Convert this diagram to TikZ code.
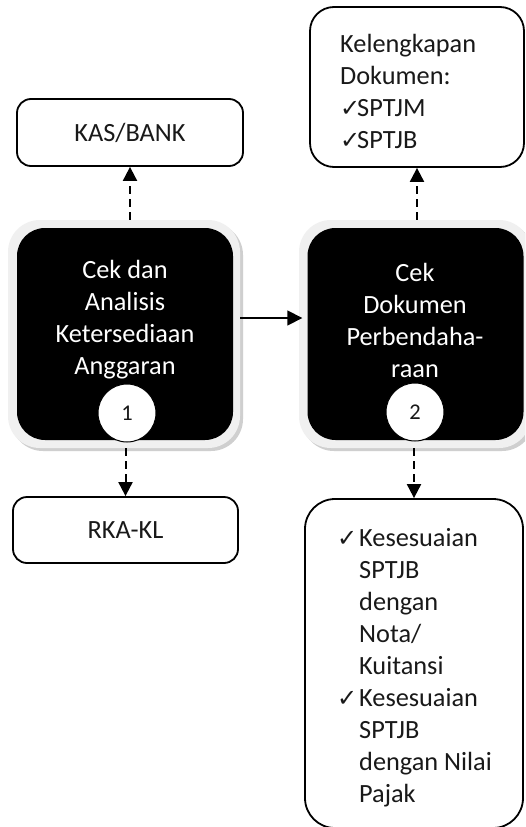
\documentclass[tikz,border=0pt]{standalone}
\usepackage{fontspec}
\setmainfont{Carlito}
\newfontfamily\symf{DejaVu Sans}
\usetikzlibrary{arrows.meta}
\newcommand{\ck}[1]{\makebox[#1][l]{\symf\fontsize{24}{26}\selectfont ✓}}
\begin{document}
\begin{tikzpicture}[x=1pt,y=-1pt,
  every node/.style={font=\fontsize{26.3}{32}\selectfont, text=black!90},
  wbox/.style={draw, line width=1.8pt, rounded corners=14pt, fill=white, inner sep=0pt},
  bigbox/.style={draw, line width=1.8pt, rounded corners=24pt, fill=white, inner sep=0pt},
  blkbox/.style={fill=black, rounded corners=28pt, inner sep=0pt, minimum width=216pt, minimum height=212pt},
  glow/.style={fill=gray!12, rounded corners=32pt, inner sep=0pt, minimum width=232pt, minimum height=228pt},
  btxt/.style={text=white, align=center, inner sep=0pt},
  ltxt/.style={align=left, inner sep=0pt, anchor=north west},
  num/.style={circle, fill=white, draw=black, line width=1pt, minimum size=58pt, inner sep=0pt, font=\fontsize{22.5}{26}\selectfont},
  darr/.style={line width=2pt, dash pattern=on 8pt off 5pt, -{Triangle[length=14pt,width=14pt]}},
  sarr/.style={line width=1.7pt, -{Triangle[length=15pt,width=15pt]}}
]
\useasboundingbox (0,0) rectangle (525,827);
\clip (0,0) rectangle (525,827);
\fill[white] (0,0) rectangle (525,827);

% shadows
\fill[gray!38, rounded corners=32pt] (11,223) rectangle (243,451);
\fill[gray!38, rounded corners=32pt] (302,223) rectangle (534,451);

\node[glow] (g1) at (124,334) {};
\node[blkbox] (b1) at (125,334) {};
\node[glow] (g2) at (415,334) {};
\node[blkbox] (b2) at (415.5,334) {};

\node[btxt] (t1) at (125,320) {Cek dan\\Analisis\\Ketersediaan\\Anggaran};
\node[btxt] (t2) at (415,320) {Cek\\Dokumen\\Perbendaha-\\raan};

\node[num] (c1) at (127,413) {1};
\node[num] (c2) at (415,412) {2};

\node[wbox, minimum width=226pt, minimum height=67pt] (kas) at (130,132.5) {KAS/BANK};
\node[wbox, minimum width=225pt, minimum height=66pt] (rka) at (125.5,530) {RKA-KL};

\node[bigbox, minimum width=214pt, minimum height=160pt] (kel) at (417,87) {};
\node[ltxt] (kelt) at (340,34) {Kelengkapan\\Dokumen:\\\ck{17pt}SPTJM\\\ck{17pt}SPTJB};

\node[bigbox, rounded corners=30pt, minimum width=218pt, minimum height=329pt] (bot) at (414,663.5) {};
\node[ltxt] (bott) at (337,528) {\ck{22pt}Kesesuaian\\\hspace*{22pt}SPTJB\\\hspace*{22pt}dengan\\\hspace*{22pt}Nota/\\\hspace*{22pt}Kuitansi\\\ck{22pt}Kesesuaian\\\hspace*{22pt}SPTJB\\\hspace*{22pt}dengan Nilai\\\hspace*{22pt}Pajak};

% connectors
\coordinate (hy) at (0,318);
\draw[darr] (g1.north -| kas.south) -- (kas.south);
\draw[darr] (g1.south -| rka.north) -- (rka.north);
\draw[darr] (g2.north -| kel.south) -- (kel.south);
\draw[darr] (g2.south -| bot.north) -- (bot.north);
\draw[sarr, shorten >=5pt] (g1.east |- hy) -- (b2.west |- hy);
\end{tikzpicture}
\end{document}
